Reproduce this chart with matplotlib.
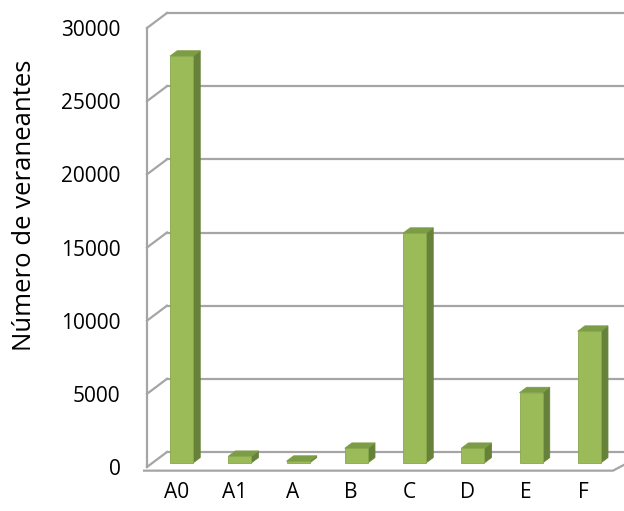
import matplotlib.pyplot as plt
from matplotlib.patches import Polygon

categories = ['A0', 'A1', 'A', 'B', 'C', 'D', 'E', 'F']
values = [27800, 450, 120, 1000, 15700, 1000, 4800, 9000]
yticks = [0, 5000, 10000, 15000, 20000, 25000, 30000]

plt.rcParams['font.family'] = ['Open Sans', 'DejaVu Sans']

# 3d look: depth of the wall, in data units
dx_full = 0.343
dy_full = 1025.
f0 = 0.27          # where the front face of the bars sits
fb = 0.36          # bar depth as fraction of total
bw = 0.395

c_front = '#9bbb59'
c_side = '#66823a'
c_top = '#7d9c46'
c_edge = '#87a84a'
c_grid = '#a5a5a5'

f = plt.figure(figsize=(6.24, 5.11), dpi=100)
ax = f.add_axes([147/624., 44/511., 466/624., 439/511.])
ax.set_xlim(-0.5, 7.5)
ax.set_ylim(0, 30000)

# back wall gridlines and left wall diagonals
for yv in yticks:
	ax.plot([-0.5 + dx_full, 9.5], [yv + dy_full]*2, color=c_grid, lw=1.6,
		clip_on=False, zorder=1)
	ax.plot([-0.5, -0.5 + dx_full], [yv, yv + dy_full], color=c_grid, lw=1.6,
		clip_on=False, zorder=1)
# left wall edge
ax.plot([-0.5, -0.5], [0, 30000], color=c_grid, lw=1.6, clip_on=False, zorder=1)
# floor front edge
ax.plot([-0.55, 7.5, 7.5 + dx_full*1.2], [-250, -250, dy_full*0.6], color=c_grid,
	lw=1.6, clip_on=False, zorder=1)

ox = f0 * dx_full
oy = f0 * dy_full
ddx = fb * dx_full
ddy = fb * dy_full
for i, v in enumerate(values):
	x0 = i + ox - bw/2.
	x1 = x0 + bw
	top = oy + v
	ax.add_patch(Polygon([(x1, oy), (x1 + ddx, oy + ddy), (x1 + ddx, top + ddy), (x1, top)],
		closed=True, fc=c_side, ec=c_side, lw=0.6, zorder=3))
	ax.add_patch(Polygon([(x0, top), (x1, top), (x1 + ddx, top + ddy), (x0 + ddx, top + ddy)],
		closed=True, fc=c_top, ec=c_top, lw=0.6, zorder=3))
ax.bar([i + ox for i in range(len(values))], values, bottom=oy, width=bw,
	color=c_front, edgecolor=c_edge, lw=0.6, zorder=4)

ax.set_yticks(yticks)
ax.set_yticklabels([str(t) for t in yticks])
ax.set_xticks(range(len(categories)))
ax.set_xticklabels(categories)
ax.tick_params(axis='y', length=0, pad=19, labelsize=15)
ax.tick_params(axis='x', length=0, pad=11, labelsize=15)
for s in ax.spines.values():
	s.set_visible(False)
ax.set_ylabel('Número de veraneantes', fontsize=18.5)
ax.yaxis.set_label_coords(-0.236, 0.595)

f.savefig('out.png', dpi=100)
